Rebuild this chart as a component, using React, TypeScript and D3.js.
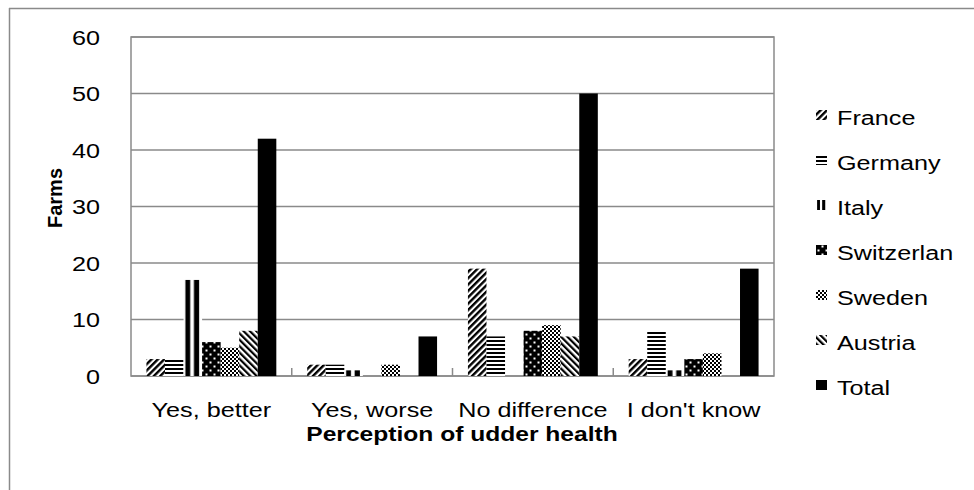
import React from "react";
import * as d3 from "d3";

const categories = ["Yes, better", "Yes, worse", "No difference", "I don't know"];
const seriesNames = ["France", "Germany", "Italy", "Switzerlan", "Sweden", "Austria", "Total"];
const france = [3, 2, 19, 3];
const germany = [3, 2, 7, 8];
const italy = [17, 1, 0, 1];
const switzerland = [6, 0, 8, 3];
const sweden = [5, 2, 9, 4];
const austria = [8, 0, 7, 0];
const total = [42, 7, 50, 19];
const yTicks = [0, 10, 20, 30, 40, 50, 60];

const seriesValues = [france, germany, italy, switzerland, sweden, austria, total];
const patternIds = ["pFrance", "pGermany", "pItaly", "pSwiss", "pSweden", "pAustria", ""];

const W = 974;
const H = 490;
const plot = { left: 131, right: 774, top: 37, bottom: 376 };
const FONT = "'Liberation Sans', Arial, sans-serif";
const GRID = "#8a8a8a";

function SText(props: {
  x: number;
  y: number;
  anchor?: string;
  size?: number;
  bold?: boolean;
  children: React.ReactNode;
}) {
  const { x, y, anchor = "start", size = 21, bold = false, children } = props;
  return (
    <text
      transform={`translate(${x},${y}) scale(1.2,1)`}
      textAnchor={anchor}
      fontSize={size}
      fontWeight={bold ? "bold" : "normal"}
      fontFamily={FONT}
      fill="#000"
    >
      {children}
    </text>
  );
}

export default function App() {
  const y = d3.scaleLinear().domain([0, 60]).range([plot.bottom, plot.top]);
  const x0 = d3
    .scaleBand<string>()
    .domain(categories)
    .range([plot.left, plot.right])
    .paddingInner(0)
    .paddingOuter(0);
  const bw = x0.bandwidth();
  const inset = bw * 0.096;
  const x1 = d3
    .scaleBand<string>()
    .domain(seriesNames)
    .range([inset, bw - inset])
    .padding(0);

  const fillFor = (i: number) => (patternIds[i] ? `url(#${patternIds[i]})` : "#000");

  const legendX = 816;
  const legendBase0 = 125;
  const legendStep = 45;

  return (
    <svg
      width={W}
      height={H}
      style={{ position: "absolute", left: 0, top: 0 }}
      xmlns="http://www.w3.org/2000/svg"
    >
      <defs>
        <pattern id="pFrance" patternUnits="userSpaceOnUse" width={4.5} height={4.5} patternTransform="rotate(45)">
          <rect x={0} y={0} width={4.5} height={4.5} fill="#fff" />
          <rect x={0} y={0} width={2.4} height={4.5} fill="#000" />
        </pattern>
        <pattern id="pAustria" patternUnits="userSpaceOnUse" width={4.5} height={4.5} patternTransform="rotate(-45)">
          <rect x={0} y={0} width={4.5} height={4.5} fill="#fff" />
          <rect x={0} y={0} width={2.2} height={4.5} fill="#000" />
        </pattern>
        <pattern id="pGermany" patternUnits="userSpaceOnUse" width={4} height={4}>
          <rect x={0} y={0} width={4} height={4} fill="#fff" />
          <rect x={0} y={0} width={4} height={2} fill="#000" />
        </pattern>
        <pattern id="pItaly" patternUnits="objectBoundingBox" patternContentUnits="objectBoundingBox" width={1} height={1}>
          <rect x={0} y={0} width={1} height={1} fill="#fff" />
          <rect x={0.1} y={0} width={0.26} height={1} fill="#000" />
          <rect x={0.56} y={0} width={0.28} height={1} fill="#000" />
        </pattern>
        <pattern id="pSwiss" patternUnits="userSpaceOnUse" width={8} height={8}>
          <rect x={0} y={0} width={8} height={8} fill="#000" />
          <rect x={1.5} y={1.5} width={2} height={2} fill="#fff" />
          <rect x={5.5} y={5.5} width={2} height={2} fill="#fff" />
        </pattern>
        <pattern id="pSweden" patternUnits="userSpaceOnUse" width={4} height={4}>
          <rect x={0} y={0} width={4} height={4} fill="#fff" />
          <rect x={0} y={0} width={2} height={2} fill="#000" />
          <rect x={2} y={2} width={2} height={2} fill="#000" />
        </pattern>
      </defs>

      <rect x={0} y={0} width={W} height={H} fill="#fff" />
      {/* outer chart frame */}
      <line x1={9.5} y1={8} x2={9.5} y2={H} stroke={GRID} strokeWidth={1.5} />
      <line x1={9} y1={8.5} x2={W} y2={8.5} stroke={GRID} strokeWidth={1.5} />

      {/* gridlines */}
      {yTicks.map((t) => (
        <line
          key={`g${t}`}
          x1={plot.left}
          x2={plot.right}
          y1={y(t)}
          y2={y(t)}
          stroke={GRID}
          strokeWidth={1.5}
        />
      ))}
      {/* plot border */}
      <rect
        x={plot.left}
        y={plot.top}
        width={plot.right - plot.left}
        height={plot.bottom - plot.top}
        fill="none"
        stroke={GRID}
        strokeWidth={1.5}
      />
      {/* category boundary ticks */}
      {categories.slice(1).map((c) => (
        <line
          key={`t${c}`}
          x1={x0(c)!}
          x2={x0(c)!}
          y1={plot.bottom}
          y2={plot.bottom - 8}
          stroke={GRID}
          strokeWidth={1.5}
        />
      ))}

      {/* bars */}
      {seriesNames.map((s, si) =>
        categories.map((c, ci) => {
          const v = seriesValues[si][ci];
          if (!v) return null;
          const bx = x0(c)! + x1(s)!;
          return (
            <rect
              key={`${s}-${c}`}
              x={bx}
              y={y(v)}
              width={x1.bandwidth()}
              height={y(0) - y(v)}
              fill={fillFor(si)}
            />
          );
        })
      )}

      {/* y tick labels */}
      {yTicks.map((t) => (
        <SText key={`yl${t}`} x={100} y={y(t) + 7.5} anchor="end">
          {t}
        </SText>
      ))}

      {/* x category labels */}
      {categories.map((c) => (
        <SText key={`xl${c}`} x={x0(c)! + bw / 2} y={417} anchor="middle">
          {c}
        </SText>
      ))}

      {/* axis titles */}
      <text
        transform={`translate(62,198) rotate(-90)`}
        textAnchor="middle"
        fontSize={20}
        fontWeight="bold"
        fontFamily={FONT}
      >
        Farms
      </text>
      <SText x={462} y={440.5} anchor="middle" size={20.5} bold>
        Perception of udder health
      </SText>

      {/* legend */}
      {seriesNames.map((s, si) => {
        const base = legendBase0 + si * legendStep;
        return (
          <g key={`lg${s}`}>
            <rect x={legendX} y={base - 15} width={11} height={10} fill={fillFor(si)} />
            <SText x={legendX + 21} y={base}>
              {s}
            </SText>
          </g>
        );
      })}
    </svg>
  );
}
